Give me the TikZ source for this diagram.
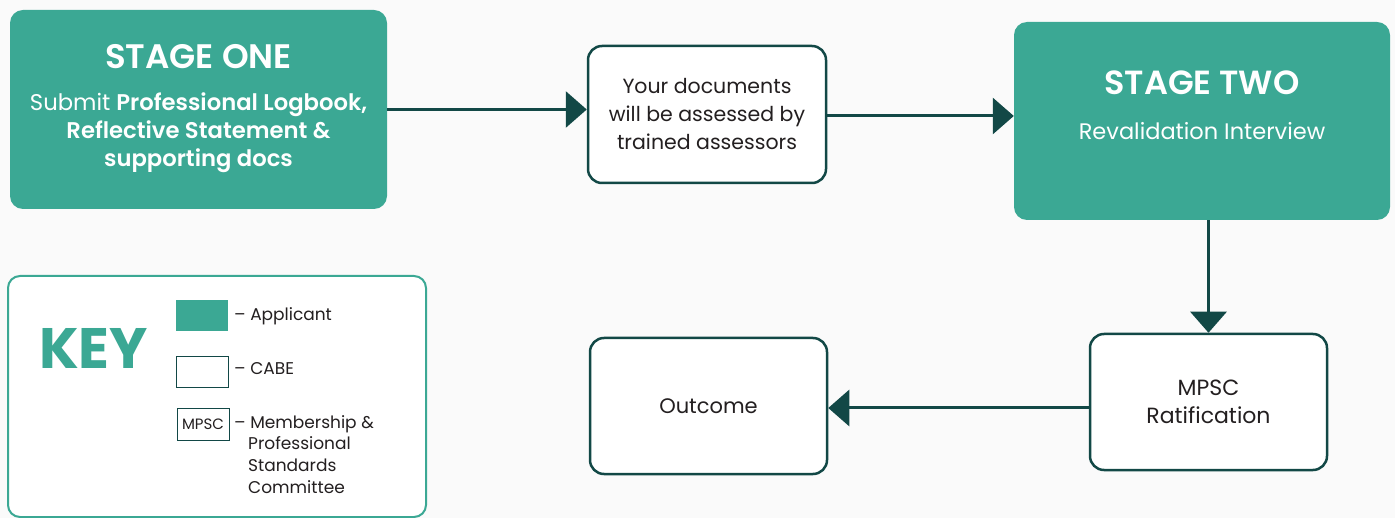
\documentclass[tikz,border=0pt]{standalone}
\usepackage{fontspec}
\setmainfont{Poppins}[BoldFont={Poppins SemiBold}]
\newfontfamily\keyfont{Poppins Bold}
\usetikzlibrary{arrows.meta,calc}
\definecolor{teal1}{RGB}{59,168,148}
\definecolor{dark1}{RGB}{18,72,70}
\definecolor{txt}{RGB}{35,31,32}
\definecolor{bg}{RGB}{250,250,250}
\tikzset{
  appbox/.style={fill=teal1, draw=none, rounded corners=13pt, text=white, align=center, inner sep=0pt},
  cabebox/.style={fill=white, draw=dark1, line width=2.5pt, rounded corners=14pt, text=txt, align=center, inner sep=0pt},
  conn/.style={draw=dark1, line width=3pt, -{Triangle[length=21pt,width=36pt]}},
  keytxt/.style={text=txt, font=\fontsize{17}{22}\selectfont, anchor=west, inner sep=0pt, align=left}
}
\begin{document}
\begin{tikzpicture}[x=1pt,y=-1pt]
\useasboundingbox (0,0) rectangle (1395,518);
\fill[bg] (0,0) rectangle (1395,518);
% Stage one
\node[appbox, minimum width=377pt, minimum height=199pt] (s1) at (198.5,109.5) {};
\node[text=white, font=\bfseries\fontsize{34}{36}\selectfont, inner sep=0pt] (s1t) at (198.5,57) {STAGE ONE};
\node[text=white, align=center, font=\fontsize{22.7}{28}\selectfont, inner sep=0pt] (s1s) at (198.5,133) {Submit \textbf{Professional Logbook,}\\ \textbf{Reflective Statement \&}\\ \textbf{supporting docs}};
% middle
\node[cabebox, minimum width=238pt, minimum height=137pt, font=\fontsize{20.5}{28}\selectfont] (mid) at (707,114.5) {Your documents\\ will be assessed by\\ trained assessors};
% Stage two
\node[appbox, minimum width=376pt, minimum height=198pt] (s2) at (1202,121) {};
\node[text=white, font=\bfseries\fontsize{33.5}{36}\selectfont, inner sep=0pt] (s2t) at (1202,83) {STAGE TWO};
\node[text=white, font=\fontsize{22.5}{28}\selectfont, inner sep=0pt] (s2s) at (1202,131) {Revalidation Interview};
% MPSC
\node[cabebox, minimum width=237pt, minimum height=136pt, font=\fontsize{22}{28}\selectfont] (mpsc) at (1208.5,402) {MPSC\\ Ratification};
% Outcome
\node[cabebox, minimum width=237pt, minimum height=136pt, font=\fontsize{21}{28}\selectfont] (out) at (708.5,406) {Outcome};
% connectors
\coordinate (a2) at ($(mid.east)+(0,1.5)$);
\coordinate (a4) at ($(mpsc.west)+(0,6)$);
\draw[conn] (s1.east) -- (s1.east -| mid.west);
\draw[conn] (a2) -- (a2 -| s2.west);
\draw[conn] (mpsc.north |- s2.south) -- (mpsc.north);
\draw[conn] (a4) -- (a4 -| out.east);
% Key
\draw[draw=teal1, line width=2pt, rounded corners=12pt, fill=white] (8,276) rectangle (426,517);
\node[text=teal1, font=\keyfont\fontsize{57}{62}\selectfont, inner sep=0pt] (keyt) at (93.5,348) {KEY};
\node[fill=teal1, minimum width=52pt, minimum height=31pt, inner sep=0pt] (k1) at (202,315.5) {};
\node[draw=dark1, line width=1pt, fill=white, minimum width=52pt, minimum height=31pt, inner sep=0pt] (k2) at (202,372.5) {};
\node[draw=dark1, line width=1pt, fill=white, minimum width=52pt, minimum height=31pt, inner sep=0pt, font=\fontsize{15}{15}\selectfont, text=txt] (k3) at (203,424.5) {MPSC};
\node[keytxt] (k1t) at (234,316) {– Applicant};
\node[keytxt] (k2t) at (234,369) {– CABE};
\node[keytxt] (k3t) at (234,424) {– Membership \&};
\node[keytxt, anchor=north west] (k3u) at (248,436) {Professional\\ Standards\\ Committee};
\end{tikzpicture}
\end{document}
